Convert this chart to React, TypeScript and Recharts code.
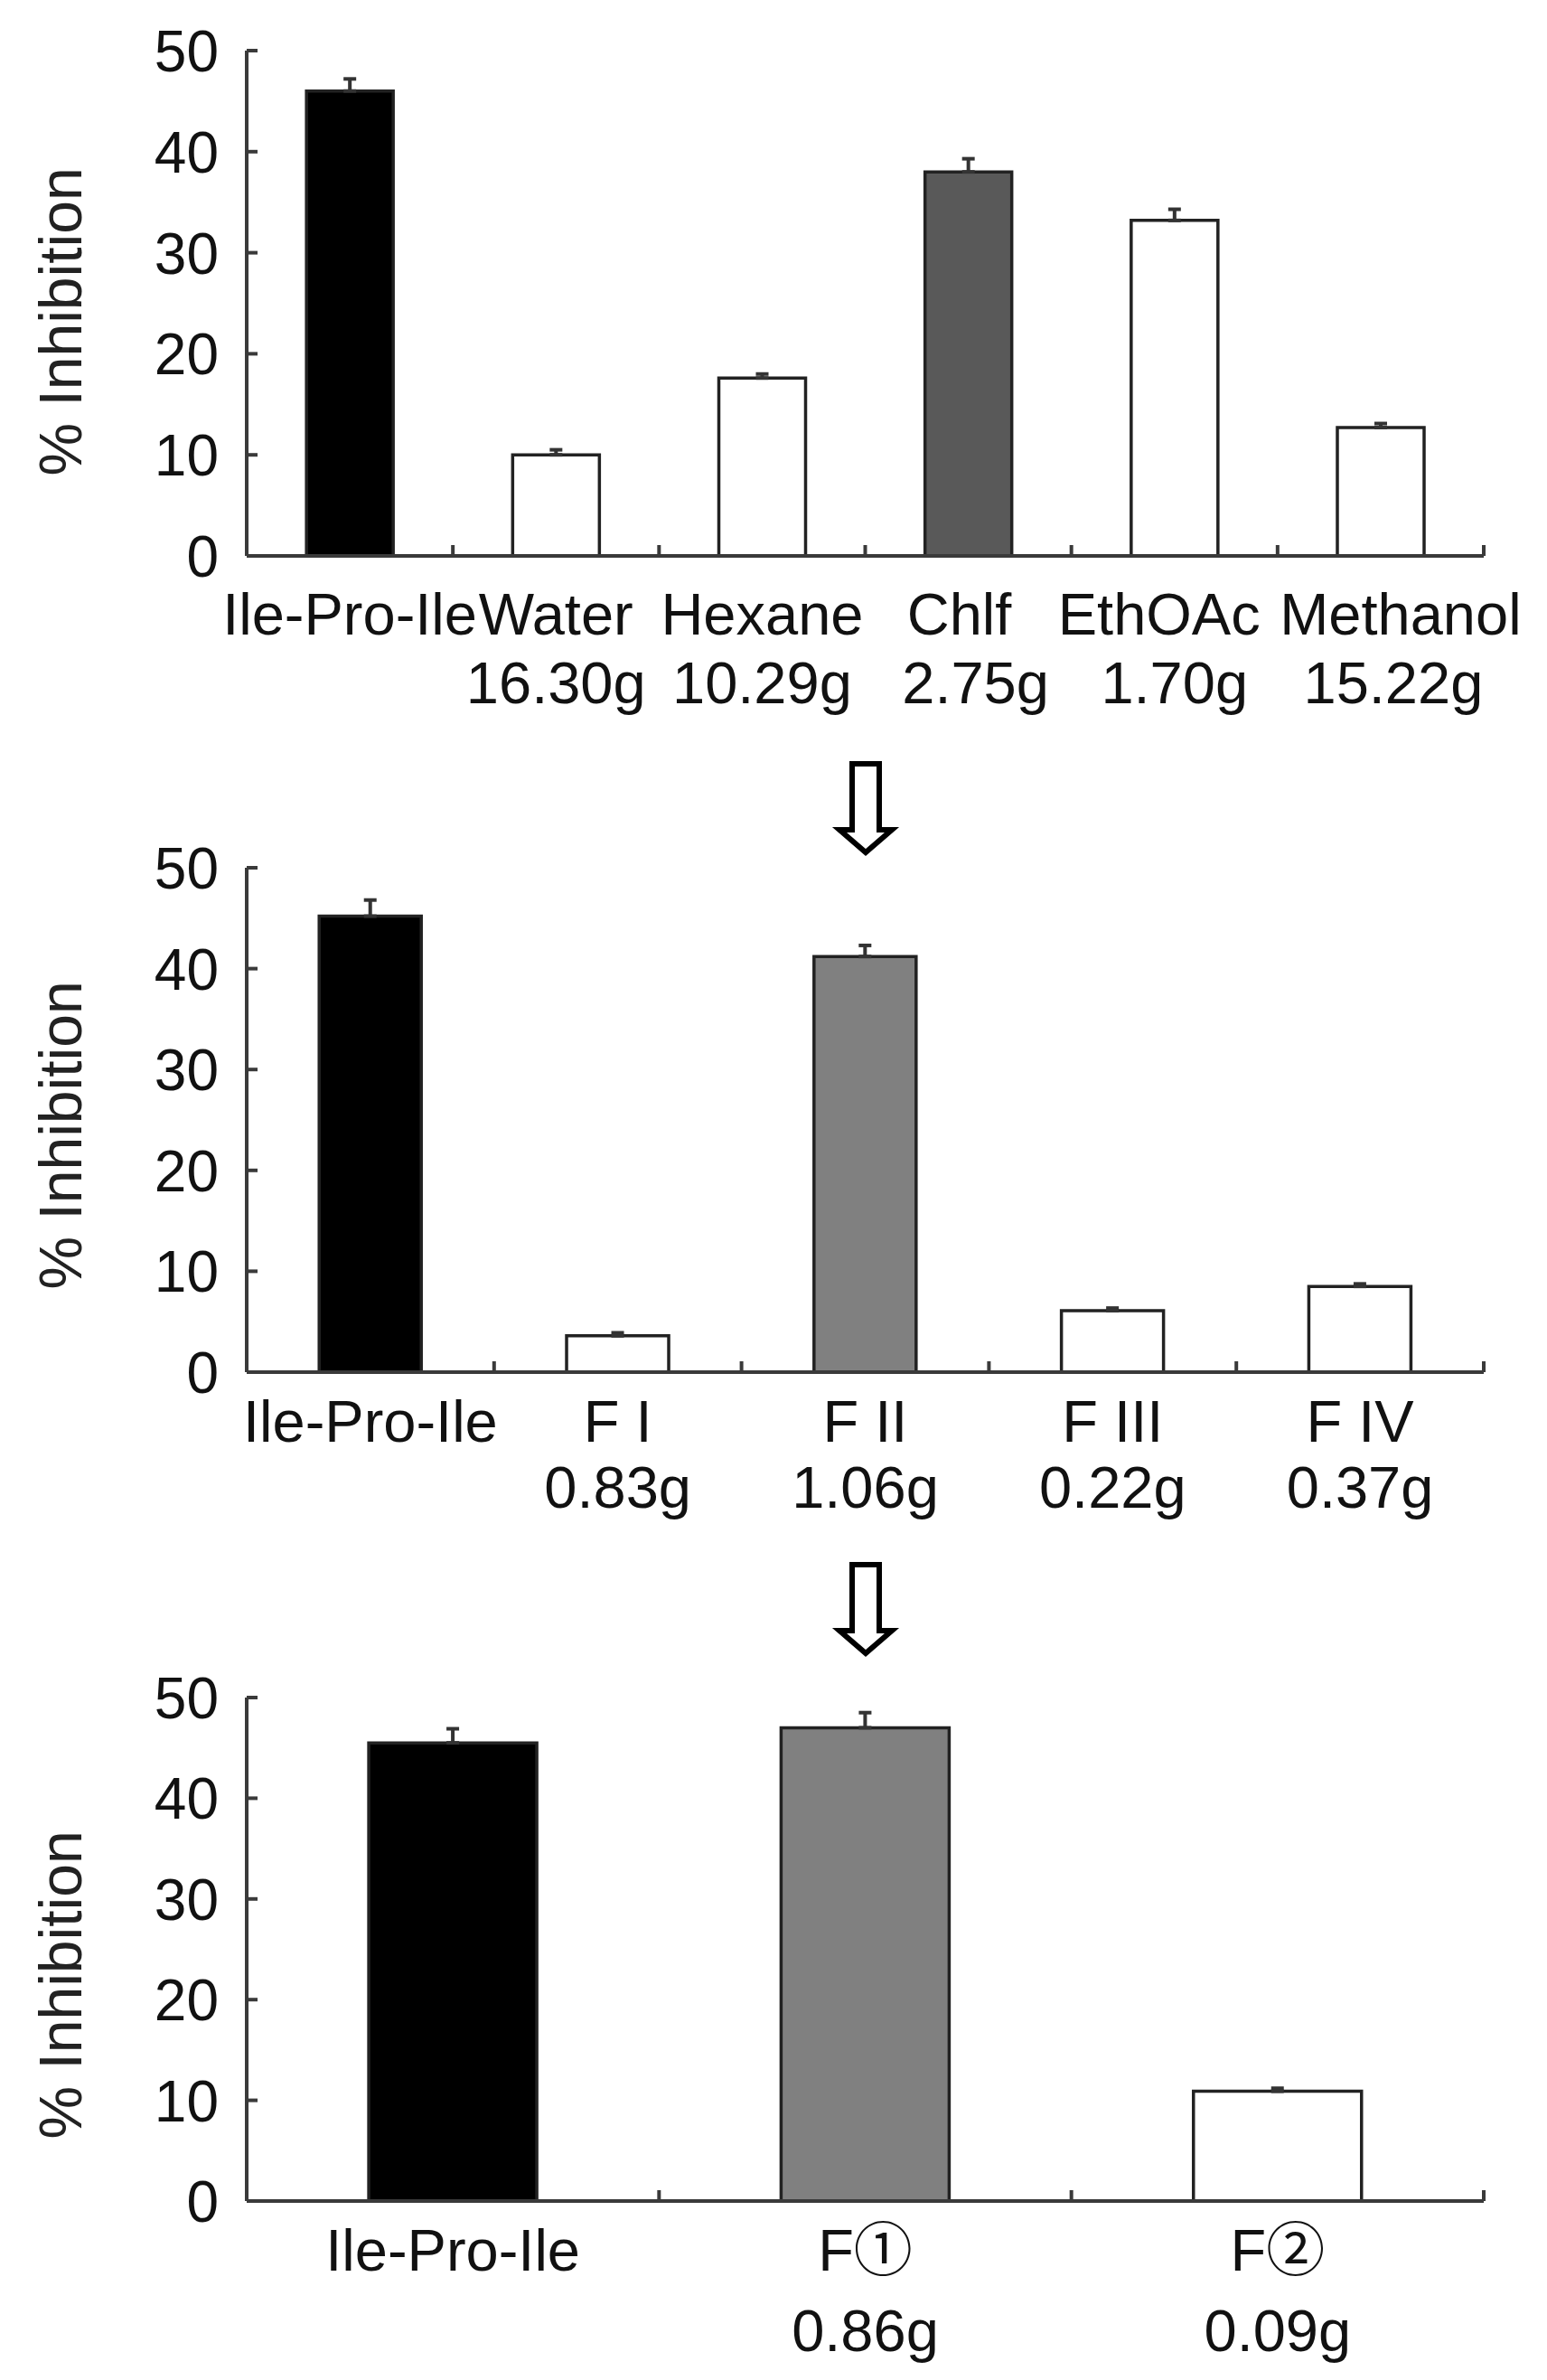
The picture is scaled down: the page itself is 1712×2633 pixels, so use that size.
import React from 'react';
import { BarChart, Bar, XAxis, YAxis, Cell, ErrorBar } from 'recharts';

const FONT = "'Liberation Sans', Arial, 'Noto Sans CJK JP', sans-serif";
const AXIS = '#3a3a3a';
const INK = '#111111';
const CHART_W = 1712;
const AXIS_W = 273;
const RIGHT = 70;
const PLOT_W = CHART_W - AXIS_W - RIGHT;

const yTicks = [0, 10, 20, 30, 40, 50];

// panel 1 - solvent partition
const p1Names = ['Ile-Pro-Ile', 'Water', 'Hexane', 'Chlf', 'EthOAc', 'Methanol'];
const p1Mass = ['', '16.30g', '10.29g', '2.75g', '1.70g', '15.22g'];
const p1Values = [46.0, 10.0, 17.6, 38.0, 33.2, 12.7];
const p1Errors = [1.2, 0.5, 0.4, 1.3, 1.1, 0.4];
const p1Fills = ['#000000', '#ffffff', '#ffffff', '#595959', '#ffffff', '#ffffff'];

// panel 2 - fractions of Chlf
const p2Names = ['Ile-Pro-Ile', 'F I', 'F II', 'F III', 'F IV'];
const p2Mass = ['', '0.83g', '1.06g', '0.22g', '0.37g'];
const p2Values = [45.2, 3.6, 41.2, 6.1, 8.5];
const p2Errors = [1.6, 0.3, 1.1, 0.25, 0.25];
const p2Fills = ['#000000', '#ffffff', '#808080', '#ffffff', '#ffffff'];

// panel 3 - sub-fractions of F II
const p3Names = ['Ile-Pro-Ile', 'F\u2460', 'F\u2461'];
const p3Mass = ['', '0.86g', '0.09g'];
const p3Values = [45.5, 47.0, 10.9];
const p3Errors = [1.4, 1.5, 0.3];
const p3Fills = ['#000000', '#808080', '#ffffff'];

// the long labels in panel 1 are pushed apart a little in the original
const nameNudge: Record<string, number> = { Chlf: -10, EthOAc: -17, Methanol: 22 };
const massNudge: Record<string, number> = { Chlf: 8, Methanol: 14 };

const ValueTick = (props: any) => {
  const { x, y, payload } = props;
  return (
    <g>
      <line x1={x} x2={x + 12} y1={y} y2={y} stroke={AXIS} strokeWidth={4} />
      <text x={x - 31} y={y} dy="0.36em" textAnchor="end" fontSize={64} fill={INK} fontFamily={FONT}>
        {payload.value}
      </text>
    </g>
  );
};

const CatTick = (props: any) => {
  const { x, y, payload, massOf, line1, line2, half } = props;
  const name = payload.value;
  return (
    <g>
      <line x1={x + half} x2={x + half} y1={y} y2={y - 12} stroke={AXIS} strokeWidth={4} />
      <text x={x + (nameNudge[name] || 0)} y={y + line1} textAnchor="middle" fontSize={65} fill={INK} fontFamily={FONT}>
        {name}
      </text>
      <text x={x + (massNudge[name] || 0)} y={y + line2} textAnchor="middle" fontSize={65} fill={INK} fontFamily={FONT}>
        {massOf[name]}
      </text>
    </g>
  );
};

const Arrow = ({ cx, top }: { cx: number; top: number }) => (
  <path
    d={`M${cx - 15},${top} L${cx + 15},${top} L${cx + 15},${top + 73} L${cx + 29},${top + 73} L${cx},${top + 98} L${cx - 29},${top + 73} L${cx - 15},${top + 73} Z`}
    fill="#ffffff"
    stroke="#000000"
    strokeWidth={6}
  />
);

interface PanelProps {
  top: number;
  marginTop: number;
  plotH: number;
  axisH: number;
  names: string[];
  mass: string[];
  values: number[];
  errors: number[];
  fills: string[];
  line1: number;
  line2: number;
  titleDy: number;
  gap: string;
}

const Panel = ({ top, marginTop, plotH, axisH, names, mass, values, errors, fills, line1, line2, titleDy, gap }: PanelProps) => {
  const data = names.map((name, i) => ({ name, value: values[i], err: [0, errors[i]] }));
  const massOf: Record<string, string> = {};
  names.forEach((n, i) => { massOf[n] = mass[i]; });
  const half = PLOT_W / names.length / 2;

  const title = (p: any) => {
    const vb = p.viewBox || { x: 0, y: 0 };
    const tx = 90;
    const ty = vb.y + titleDy;
    return (
      <text
        x={tx}
        y={ty}
        transform={`rotate(-90, ${tx}, ${ty})`}
        textAnchor="middle"
        fontSize={66}
        fill="#222222"
        fontFamily={FONT}
      >
        % Inhibition
      </text>
    );
  };

  return (
    <div style={{ position: 'absolute', left: 0, top }}>
      <BarChart
        width={CHART_W}
        height={marginTop + plotH + axisH}
        data={data}
        margin={{ top: marginTop, right: RIGHT, bottom: 0, left: 0 }}
        barCategoryGap={gap}
      >
        <XAxis
          dataKey="name"
          interval={0}
          tickLine={false}
          tickSize={0}
          tickMargin={0}
          height={axisH}
          axisLine={{ stroke: AXIS, strokeWidth: 4 }}
          tick={(p: any) => <CatTick {...p} massOf={massOf} line1={line1} line2={line2} half={half} />}
        />
        <YAxis
          width={AXIS_W}
          domain={[0, 50]}
          ticks={yTicks}
          interval={0}
          tickLine={false}
          tickSize={0}
          tickMargin={0}
          axisLine={{ stroke: AXIS, strokeWidth: 4 }}
          tick={ValueTick}
          label={title}
        />
        <Bar dataKey="value" stroke="#222222" strokeWidth={3.5} isAnimationActive={false}>
          {fills.map((f, i) => (
            <Cell key={i} fill={f} />
          ))}
          <ErrorBar dataKey="err" direction="y" width={7} stroke="#333333" strokeWidth={4} isAnimationActive={false} />
        </Bar>
      </BarChart>
    </div>
  );
};

export default function App() {
  return (
    <div style={{ position: 'relative', width: 1712, height: 2633, background: '#ffffff', overflow: 'hidden' }}>
      <style>{'body{margin:0}'}</style>
      <Panel
        top={0}
        marginTop={56}
        plotH={559}
        axisH={210}
        names={p1Names}
        mass={p1Mass}
        values={p1Values}
        errors={p1Errors}
        fills={p1Fills}
        line1={87}
        line2={163}
        titleDy={300}
        gap="29%"
      />
      <Panel
        top={880}
        marginTop={80}
        plotH={558}
        axisH={200}
        names={p2Names}
        mass={p2Mass}
        values={p2Values}
        errors={p2Errors}
        fills={p2Fills}
        line1={77}
        line2={150}
        titleDy={296}
        gap="29.3%"
      />
      <Panel
        top={1800}
        marginTop={78}
        plotH={557}
        axisH={195}
        names={p3Names}
        mass={p3Mass}
        values={p3Values}
        errors={p3Errors}
        fills={p3Fills}
        line1={77}
        line2={166}
        titleDy={318}
        gap="29.6%"
      />
      <svg width={1712} height={2633} style={{ position: 'absolute', left: 0, top: 0, pointerEvents: 'none' }}>
        <Arrow cx={958} top={845} />
        <Arrow cx={958} top={1731} />
      </svg>
    </div>
  );
}
